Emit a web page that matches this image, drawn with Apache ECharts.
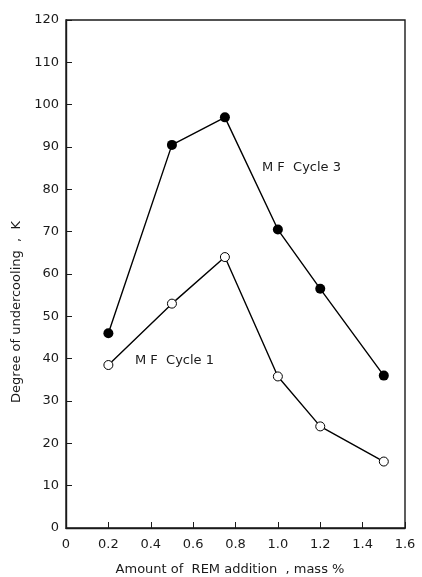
<!DOCTYPE html>
<html>
<head>
<meta charset="utf-8">
<script src="https://cdn.jsdelivr.net/npm/echarts@6/dist/echarts.min.js"></script>
<style>
  html, body { margin: 0; padding: 0; background: #fff; }
  #main { width: 422px; height: 577px; }
</style>
</head>
<body>
<div id="main"></div>
<script>
// REM addition (mass%)
const remAmount = [0.2, 0.5, 0.75, 1.0, 1.2, 1.5]
// undercooling, K
const cycle3 = [46, 90.5, 97, 70.5, 56.5, 36]
const cycle1 = [38.5, 53, 64, 35.8, 24, 15.7]

const xTicks = ['0', '0.2', '0.4', '0.6', '0.8', '1.0', '1.2', '1.4', '1.6']

const font = 'DejaVu Sans'
const ink = '#1a1a1a'

const chart = echarts.init(document.getElementById('main'), null, { renderer: 'canvas' })

const option = {
    backgroundColor: '#fff',
    animation: false,
    grid: {
        left: 66, right: 17, top: 20, bottom: 49,
        show: true,
        borderColor: ink,
        borderWidth: 1.4,
        backgroundColor: 'transparent'
    },
    xAxis: {
        type: 'value',
        min: 0, max: 1.6, interval: 0.2,
        axisLine: { lineStyle: { color: ink, width: 1.4 } },
        axisTick: { inside: true, length: 6, lineStyle: { color: ink } },
        axisLabel: {
            margin: 10, fontFamily: font, fontSize: 13, color: ink,
            formatter: (v) => xTicks[Math.round(v / 0.2)]
        },
        splitLine: { show: false }
    },
    yAxis: {
        type: 'value',
        min: 0, max: 120, interval: 10,
        axisLine: { lineStyle: { color: ink, width: 1.4 } },
        axisTick: { inside: true, length: 6, lineStyle: { color: ink } },
        axisLabel: { margin: 7, fontFamily: font, fontSize: 13, color: ink },
        splitLine: { show: false }
    },
    series: [
        {
            name: 'M F Cycle 3',
            type: 'line',
            data: remAmount.map((x, i) => [x, cycle3[i]]),
            symbol: 'circle',
            symbolSize: 10,
            itemStyle: { color: '#000' },
            lineStyle: { color: '#000', width: 1.4 },
            z: 3
        },
        {
            name: 'M F Cycle 1',
            type: 'line',
            data: remAmount.map((x, i) => [x, cycle1[i]]),
            symbol: 'circle',
            symbolSize: 9,
            itemStyle: { color: '#fff', borderColor: '#000', borderWidth: 1 },
            lineStyle: { color: '#000', width: 1.4 },
            z: 3
        }
    ],
    graphic: [
        {
            type: 'text', left: 262, top: 161,
            style: { text: 'M F  Cycle 3', fontFamily: font, fontSize: 13, fill: ink }
        },
        {
            type: 'text', left: 135, top: 354,
            style: { text: 'M F  Cycle 1', fontFamily: font, fontSize: 13, fill: ink }
        },
        {
            type: 'text', x: 17, y: 312, rotation: Math.PI / 2,
            style: {
                text: 'Degree of undercooling  ,  K', fontFamily: font, fontSize: 13, fill: ink,
                align: 'center', verticalAlign: 'middle'
            }
        },
        {
            type: 'text', x: 230, y: 570,
            style: {
                text: 'Amount of  REM addition  , mass %', fontFamily: font, fontSize: 13, fill: ink,
                align: 'center', verticalAlign: 'middle'
            }
        }
    ]
}

chart.setOption(option)
</script>
</body>
</html>
